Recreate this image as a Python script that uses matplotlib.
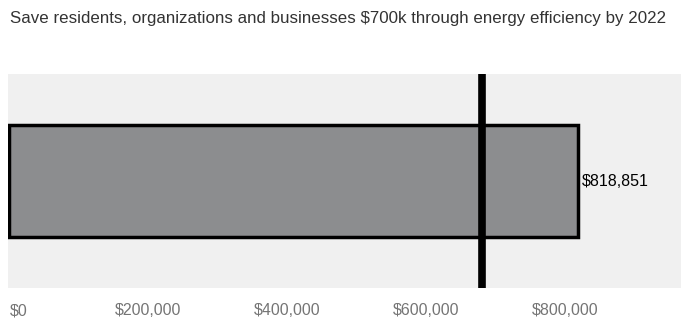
import matplotlib.pyplot as plt
from matplotlib.ticker import FuncFormatter

plt.rcParams['font.family'] = ['Liberation Sans', 'DejaVu Sans']

# data
title = "Save residents, organizations and businesses $700k through energy efficiency by 2022"
category = ["Savings"]
savings = [818851]
target = 680000
xticks = [0, 200000, 400000, 600000, 800000]

fig = plt.figure(figsize=(6.81, 3.25), dpi=100)
ax = fig.add_axes([8 / 681, 37 / 325, 673 / 681, 214 / 325])
ax.set_facecolor("#f0f0f0")

# bar with black border and its value label
ax.barh(category, savings, height=0.52, color="#8c8d8f", edgecolor="black", linewidth=2.5, zorder=2)
ax.text(savings[0] + 6000, 0, "${:,.0f}".format(savings[0]), va="center", ha="left",
        fontsize=11.5, color="black", zorder=4)

# target marker line
ax.axvline(target, color="black", linewidth=5.5, zorder=3)

ax.set_xlim(-2000, 967000)
ax.set_ylim(-0.5, 0.5)
ax.set_yticks([])
ax.set_xticks(xticks)
ax.xaxis.set_major_formatter(FuncFormatter(lambda v, p: "${:,.0f}".format(v)))
ax.tick_params(axis="x", length=0, pad=11, labelsize=11.5, labelcolor="#757575")
for s in ax.spines.values():
    s.set_visible(False)

# nudge the $0 label right so it is not clipped
ax.get_xticklabels()[0].set_horizontalalignment("left")

fig.text(10 / 681, 1 - 18 / 325, title, fontsize=12.2, color="#333333", va="center", ha="left")

fig.savefig("out.png", dpi=100, facecolor="white")
